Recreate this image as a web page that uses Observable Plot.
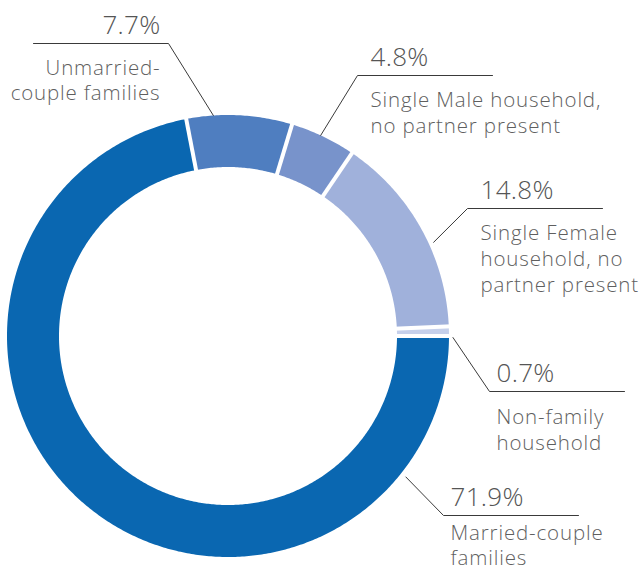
<!DOCTYPE html>
<html>
<head>
<meta charset="utf-8">
<script src="https://cdn.jsdelivr.net/npm/d3@7"></script>
<script src="https://cdn.jsdelivr.net/npm/@observablehq/plot@0.6"></script>
<style>
  html, body { margin: 0; padding: 0; background: #fff; }
  #chart svg { display: block; }
  #chart .desc text { letter-spacing: 0.85px; }
  #chart .pct text { letter-spacing: 0.3px; }
</style>
</head>
<body>
<div id="chart"></div>
<script>
// ---- data ----
const categories = [
  "Married-couple families",
  "Unmarried-couple families",
  "Single Male household, no partner present",
  "Single Female household, no partner present",
  "Non-family household"
];
const values = [71.9, 7.7, 4.8, 14.8, 0.7];
const percentLabels = ["71.9%", "7.7%", "4.8%", "14.8%", "0.7%"];
const descLabels = [
  "Married-couple\nfamilies",
  "Unmarried-\ncouple families",
  "Single Male household,\nno partner present",
  "Single Female\nhousehold, no\npartner present",
  "Non-family\nhousehold"
];
const colors = ["#0A67B1", "#4F7EC0", "#7893CB", "#A0B1DB", "#C6D0EB"];

// ---- layout (pixels relative to donut centre) ----
const W = 639, H = 567;
const CX = 227.5, CY = 335.5;
const R_OUT = 220, R_IN = 170;
const PCT_SIZE = 26, DESC_SIZE = 20.5;
// leader start (angle deg clockwise from 12 o'clock, radius), elbow, side, text offset, line spacing (px)
const annot = [
  {angle: 128.4, r: 227, ex: 215.5, ey: 179.5, side: "right", tx: 7, ls: 25, dy: 21},
  {angle: -3.8,  r: 221, ex: -59.5, ey: -292.5, side: "left", tx: -8, ls: 25.5, dy: 27.5},
  {angle: 24.8,  r: 221, ex: 129.5, ey: -260.5, side: "right", tx: 13, ls: 26, dy: 28},
  {angle: 65.5,  r: 226, ex: 239.5, ey: -127.5, side: "right", tx: 13, ls: 26, dy: 28},
  {angle: 90.4,  r: 225, ex: 261.5, ey: 55.5,  side: "right", tx: 7, ls: 25.5, dy: 29}
];
const LINE_LEN = 135;

// ---- geometry from data ----
const pie = d3.pie().sort(null).startAngle(Math.PI / 2).endAngle(Math.PI / 2 + 2 * Math.PI);
const arcs = pie(values);
const polar = (a, r) => ({x: r * Math.sin(a), y: -r * Math.cos(a)});

const slicePts = [];
arcs.forEach((a, i) => {
  const n = Math.max(4, Math.ceil((a.endAngle - a.startAngle) / 0.01));
  const ring = [];
  for (let k = 0; k <= n; k++) ring.push(polar(a.startAngle + (a.endAngle - a.startAngle) * k / n, R_OUT + 1));
  for (let k = n; k >= 0; k--) ring.push(polar(a.startAngle + (a.endAngle - a.startAngle) * k / n, R_IN - 1));
  ring.push(ring[0]);
  ring.forEach(p => slicePts.push({cat: categories[i], ...p}));
});

const gaps = arcs.map(a => {
  const p1 = polar(a.startAngle, R_IN - 4), p2 = polar(a.startAngle, R_OUT + 4);
  return {x1: p1.x, y1: p1.y, x2: p2.x, y2: p2.y};
});

const leaders = [];
annot.forEach((d, i) => {
  const s = polar(d.angle * Math.PI / 180, d.r);
  const endX = d.side === "right" ? d.ex + LINE_LEN : d.ex - LINE_LEN;
  [s, {x: d.ex, y: d.ey}, {x: endX, y: d.ey}].forEach(p => leaders.push({cat: categories[i], ...p}));
});

const pctText = annot.map((d, i) => ({
  x: d.ex + d.tx, y: d.ey - 10, text: percentLabels[i], anchor: d.side === "right" ? "start" : "end"
}));
const descText = annot.map((d, i) => ({
  x: d.ex + d.tx, y: d.ey + d.dy - 0.71 * DESC_SIZE, text: descLabels[i], lh: d.ls / DESC_SIZE, anchor: d.side === "right" ? "start" : "end"
}));

const font = "'Open Sans', 'Noto Sans', sans-serif";
const descMarks = descText.map(d => Plot.text([d], {
  x: "x", y: "y", text: "text", textAnchor: d.anchor, lineAnchor: "top", lineHeight: d.lh,
  fontSize: DESC_SIZE, fontWeight: 300, fill: "#5f5f5f", className: "desc"
}));

const chart = Plot.plot({
  width: W, height: H, margin: 0,
  x: {domain: [-CX, W - CX], range: [0, W], axis: null},
  y: {domain: [-CY, H - CY], range: [0, H], axis: null},
  color: {domain: categories, range: colors},
  style: {fontFamily: font, background: "#fff"},
  marks: [
    Plot.line(slicePts, {x: "x", y: "y", z: "cat", fill: "cat", stroke: "none"}),
    Plot.link(gaps, {x1: "x1", y1: "y1", x2: "x2", y2: "y2", stroke: "white", strokeWidth: 4}),
    Plot.line(leaders, {x: "x", y: "y", z: "cat", stroke: "#3a3a3a", strokeWidth: 1, strokeLinejoin: "miter"}),
    Plot.text(pctText.filter(d => d.anchor === "start"), {x: "x", y: "y", text: "text", textAnchor: "start", lineAnchor: "bottom", fontSize: PCT_SIZE, fontWeight: 300, fill: "#555", className: "pct"}),
    Plot.text(pctText.filter(d => d.anchor === "end"), {x: "x", y: "y", text: "text", textAnchor: "end", lineAnchor: "bottom", fontSize: PCT_SIZE, fontWeight: 300, fill: "#555", className: "pct"}),
    ...descMarks
  ]
});
document.getElementById("chart").appendChild(chart);
</script>
</body>
</html>
